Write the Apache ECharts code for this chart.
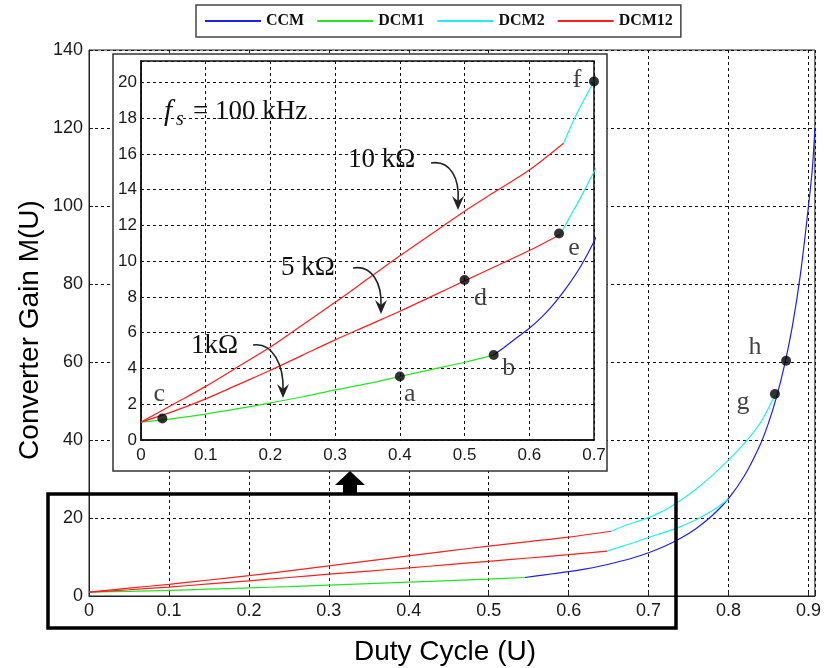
<!DOCTYPE html>
<html lang="en">
<head>
    <meta charset="UTF-8">
    <title>Converter Gain</title>
    <style>
        html, body { margin: 0; padding: 0; background: #fff; }
        #main { width: 824px; height: 668px; }
    </style>
</head>
<body>
<div id="main"></div>
<script src="https://cdn.jsdelivr.net/npm/echarts/dist/echarts.min.js"></script>
<script>
    /* values */
    var ccmDuty  = [0.545, 0.56, 0.58, 0.6, 0.62, 0.64, 0.66, 0.68, 0.7, 0.72, 0.74, 0.76, 0.78, 0.8, 0.82, 0.84, 0.85, 0.86, 0.87, 0.88, 0.89, 0.9, 0.905, 0.908];
    var ccmGain  = [4.75, 5.15, 5.7, 6.25, 6.9, 7.7, 8.65, 9.75, 11.1, 12.75, 14.8, 17.4, 20.7, 25.0, 30.9, 39.0, 44.4, 51.0, 59.2, 69.4, 82.6, 100, 110, 120];

    var dcm1Duty = [0, 0.05, 0.1, 0.15, 0.2, 0.25, 0.3, 0.35, 0.4, 0.45, 0.5, 0.545];
    var dcm1Gain = [1.0, 1.2, 1.45, 1.75, 2.08, 2.42, 2.8, 3.15, 3.55, 3.95, 4.35, 4.75];

    // 5 kOhm
    var dcm12aDuty = [0, 0.05, 0.1, 0.15, 0.2, 0.25, 0.3, 0.35, 0.4, 0.45, 0.5, 0.55, 0.6, 0.648];
    var dcm12aGain = [1.0, 1.6, 2.3, 3.1, 3.9, 4.75, 5.6, 6.4, 7.2, 8.05, 8.9, 9.75, 10.6, 11.5];
    // 10 kOhm
    var dcm12bDuty = [0, 0.05, 0.1, 0.15, 0.2, 0.25, 0.3, 0.35, 0.4, 0.45, 0.5, 0.55, 0.6, 0.653];
    var dcm12bGain = [1.0, 2.0, 3.0, 4.1, 5.2, 6.45, 7.7, 9.0, 10.3, 11.55, 12.8, 13.95, 15.1, 16.6];

    var dcm2aDuty = [0.648, 0.66, 0.68, 0.7, 0.72, 0.74, 0.76, 0.78, 0.8];
    var dcm2aGain = [11.5, 12.3, 13.6, 15.0, 16.3, 17.8, 19.6, 21.9, 24.8];
    var dcm2bDuty = [0.653, 0.67, 0.69, 0.7, 0.72, 0.74, 0.76, 0.78, 0.8, 0.82, 0.84, 0.858];
    var dcm2bGain = [16.6, 18.0, 19.4, 20.1, 22.0, 24.5, 27.5, 31.0, 34.9, 39.2, 44.5, 51.5];

    var insetPtName = ['a', 'b', 'c', 'd', 'e', 'f'];
    var insetPtDuty = [0.4, 0.545, 0.033, 0.5, 0.646, 0.7];
    var insetPtGain = [3.55, 4.75, 1.2, 8.95, 11.55, 20.05];
    var mainPtName = ['g', 'h'];
    var mainPtDuty = [0.858, 0.872];
    var mainPtGain = [51.8, 60.3];

    var mainTicksX = [0, 0.1, 0.2, 0.3, 0.4, 0.5, 0.6, 0.7, 0.8, 0.9];

    var colors = {CCM: '#1f1fe6', DCM1: '#22e622', DCM2: '#22eeee', DCM12: '#ff1f1f'};
    var labelOffset = {a: [10, 18], b: [15, 13], c: [-3, -24], d: [16, 18], e: [15, 15], f: [-17, -1], g: [-32, 8], h: [-31, -14]};

    function zip(xs, ys) {
        var out = [];
        for (var i = 0; i < xs.length; i++) out.push([xs[i], ys[i]]);
        return out;
    }
    function pts(names, xs, ys) {
        var out = [];
        for (var i = 0; i < names.length; i++) {
            out.push({name: names[i], value: [xs[i], ys[i]], label: {offset: labelOffset[names[i]]}});
        }
        return out;
    }
    function tenths(v) {
        var r = Math.round(v * 10);
        if (Math.abs(v * 10 - r) > 1e-6) return '';
        return r === 0 ? '0' : (r / 10).toString();
    }
    function evenInt(v) {
        return Math.abs(v - Math.round(v)) < 1e-6 ? String(Math.round(v)) : '';
    }

    var serif = '"Liberation Serif", "DejaVu Serif", serif';
    var sans = '"Liberation Sans", Arial, sans-serif';
    var gridDash = {show: true, lineStyle: {color: '#111', type: [3, 3], width: 1}};

    var curves = [
        ['CCM', ccmDuty, ccmGain],
        ['DCM1', dcm1Duty, dcm1Gain],
        ['DCM12', dcm12aDuty, dcm12aGain],
        ['DCM12', dcm12bDuty, dcm12bGain],
        ['DCM2', dcm2aDuty, dcm2aGain],
        ['DCM2', dcm2bDuty, dcm2bGain]
    ];

    var series = [];
    [0, 1].forEach(function (g) {
        curves.forEach(function (c) {
            series.push({
                name: c[0],
                type: 'line',
                xAxisIndex: g,
                yAxisIndex: g,
                data: zip(c[1], c[2]),
                smooth: 0.3,
                showSymbol: false,
                silent: true,
                z: g === 0 ? 3 : 13,
                lineStyle: {color: colors[c[0]], width: 1.2},
                itemStyle: {color: colors[c[0]]}
            });
        });
    });

    var dotLabel = {show: true, formatter: '{b}', position: 'inside', color: '#111', fontFamily: serif, fontSize: 26};
    series.push({
        type: 'scatter', xAxisIndex: 1, yAxisIndex: 1, z: 14, clip: false, silent: true,
        symbolSize: 10, itemStyle: {color: '#000'}, label: dotLabel,
        data: pts(insetPtName, insetPtDuty, insetPtGain)
    });
    series.push({
        type: 'scatter', xAxisIndex: 0, yAxisIndex: 0, z: 4, clip: false, silent: true,
        symbolSize: 10, itemStyle: {color: '#000'}, label: dotLabel,
        data: pts(mainPtName, mainPtDuty, mainPtGain)
    });

    function arrow(x1, y1, c1x, c1y, c2x, c2y, tx, ty) {
        return [
            {type: 'bezierCurve', z: 20, shape: {x1: x1, y1: y1, cpx1: c1x, cpy1: c1y, cpx2: c2x, cpy2: c2y, x2: tx, y2: ty - 8},
             style: {stroke: '#222', lineWidth: 1.6, fill: null}},
            {type: 'polygon', z: 20, shape: {points: [[tx, ty], [tx - 6, ty - 14], [tx, ty - 9], [tx + 6, ty - 14]]},
             style: {fill: '#222'}}
        ];
    }
    function txt(x, y, s, size, extra) {
        var st = {text: s, font: (extra || '') + ' ' + size + 'px ' + serif, fill: '#111', align: 'left', verticalAlign: 'middle'};
        return {type: 'text', z: 20, x: x, y: y, style: st};
    }

    var graphics = [
        {type: 'rect', z: 10, shape: {x: 113, y: 54, width: 494, height: 417}, style: {fill: '#fff', stroke: '#333', lineWidth: 1.5}},
        txt(164, 112, 'f', 29, 'italic'),
        txt(176, 120, 's', 20, 'italic'),
        txt(193, 112, '= 100 kHz', 27),
        txt(348, 160, '10 kΩ', 27),
        txt(281, 268, '5 kΩ', 27),
        txt(191, 346, '1kΩ', 27),
        {type: 'polygon', z: 30, shape: {points: [[350, 471], [335, 485], [343, 485], [343, 494], [357, 494], [357, 485], [365, 485]]}, style: {fill: '#000'}},
        {type: 'rect', z: 30, shape: {x: 48, y: 494, width: 628, height: 134}, style: {fill: null, stroke: '#000', lineWidth: 3.5}},
        {type: 'text', z: 20, x: 30, y: 330, rotation: Math.PI / 2,
         style: {text: 'Converter Gain M(U)', font: '28px ' + sans, fill: '#000', align: 'center', verticalAlign: 'middle'}},
        {type: 'text', z: 20, x: 445, y: 652,
         style: {text: 'Duty Cycle (U)', font: '28px ' + sans, fill: '#000', align: 'center', verticalAlign: 'middle'}}
    ]
        .concat(arrow(431, 163, 450, 160, 460, 178, 458, 210))
        .concat(arrow(353, 268, 372, 265, 382, 283, 381, 314))
        .concat(arrow(253, 345, 273, 342, 284, 366, 283, 398));

    var myChart = echarts.init(document.getElementById('main'));
    var option = {
        animation: false,
        backgroundColor: '#fff',
        legend: {
            data: ['CCM', 'DCM1', 'DCM2', 'DCM12'],
            left: 196,
            top: 5,
            icon: 'rect',
            itemWidth: 56,
            itemHeight: 2,
            itemGap: 13,
            padding: [8, 8, 8, 9],
            borderColor: '#444',
            borderWidth: 1.5,
            selectedMode: false,
            textStyle: {fontFamily: serif, fontWeight: 'bold', fontSize: 16, color: '#111'}
        },
        grid: [
            {left: 89, right: 4, top: 50, bottom: 72, show: true, borderColor: '#222', borderWidth: 1, z: 0},
            {left: 141, right: 230, top: 61, bottom: 228, show: true, borderColor: '#111', borderWidth: 1.5, backgroundColor: '#fff', z: 11}
        ],
        xAxis: [
            {
                type: 'value', gridIndex: 0, min: 0, max: 0.908, interval: 0.1, z: 1,
                axisLine: {lineStyle: {color: '#222'}},
                axisTick: {show: true, inside: true, length: 4, lineStyle: {color: '#222'}},
                axisLabel: {formatter: tenths, color: '#1a1a1a', fontFamily: sans, fontSize: 18, margin: 6},
                splitLine: gridDash
            },
            {
                type: 'value', gridIndex: 1, min: 0, max: 0.7, interval: 0.1, z: 12,
                axisLine: {lineStyle: {color: '#111', width: 1.5}},
                axisTick: {show: false},
                axisLabel: {formatter: tenths, color: '#1a1a1a', fontFamily: sans, fontSize: 17, margin: 7},
                splitLine: gridDash
            }
        ],
        yAxis: [
            {
                type: 'value', gridIndex: 0, min: 0, max: 140, interval: 20, z: 1,
                axisLine: {show: true, lineStyle: {color: '#222'}},
                axisTick: {show: true, inside: true, length: 4, lineStyle: {color: '#222'}},
                axisLabel: {color: '#1a1a1a', fontFamily: sans, fontSize: 18, margin: 6},
                splitLine: gridDash
            },
            {
                type: 'value', gridIndex: 1, min: 0, max: 21.2, interval: 2, z: 12,
                axisLine: {show: true, lineStyle: {color: '#111', width: 1.5}},
                axisTick: {show: false},
                axisLabel: {formatter: evenInt, color: '#1a1a1a', fontFamily: sans, fontSize: 17, margin: 4},
                splitLine: gridDash
            }
        ],
        graphic: {elements: graphics},
        series: series
    };
    myChart.setOption(option);
</script>
</body>
</html>
